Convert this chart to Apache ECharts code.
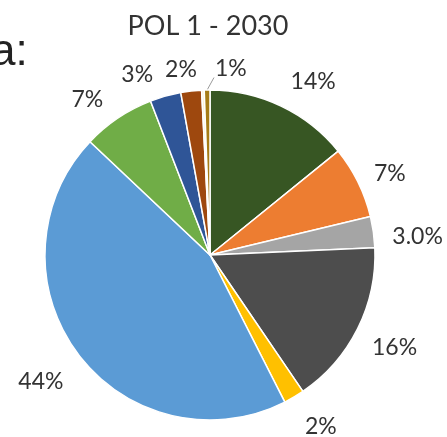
<!DOCTYPE html>
<html>
<head>
<meta charset="utf-8">
<script src="https://cdn.jsdelivr.net/npm/echarts@6/dist/echarts.min.js"></script>
<style>
  html, body { margin: 0; padding: 0; background: #fff; }
  #chart { width: 447px; height: 437px; }
</style>
</head>
<body>
<div id="chart"></div>
<script>
// Share of each category in 2030 (percent), clockwise from 12 o'clock
const categories = ['A', 'B', 'C', 'D', 'E', 'F', 'G', 'H', 'I', 'J', 'K'];
const shares = [14, 7, 3.0, 16, 2, 44, 7, 3, 2, 0.25, 0.55];
// decimals shown in each label (null = no label)
const labelDecimals = [0, 0, 1, 0, 0, 0, 0, 0, 0, null, 0];
const sliceColors = ['#375623', '#ED7D31', '#A5A5A5', '#4D4D4D', '#FFC000', '#5B9BD5',
                     '#70AD47', '#2F5597', '#9E480E', '#FFF2CC', '#A67C16'];
const titleText = 'POL 1 - 2030';

// pie geometry
const CX = 210, CY = 255, R = 165;
const LABEL_GAP = 15;        // space between the rim and the nearest edge of a label
const LABEL_FONT = 23;
const LEADER_INDEX = 10;     // slice whose label sits on a leader line
const LEADER_ANGLE = 6.5;    // degrees from 12 o'clock for that label
// fine shifts (px) of individual labels away from the default spot
const labelShift = [[17, 7], [1, 7], [3, 10], [1, 1], [10, 1], [-5, 4],
                    [-12, 9], [-20, 8], [-7, 7], [0, 0], [-1, 6]];

const total = shares.reduce((a, b) => a + b, 0);
const midAngles = [];
let acc = 0;
shares.forEach(v => { midAngles.push((acc + v / 2) / total * 2 * Math.PI); acc += v; });

const chart = echarts.init(document.getElementById('chart'));

const data = categories.map((name, i) => {
  const item = { name: name, value: shares[i], itemStyle: { color: sliceColors[i] } };
  if (labelDecimals[i] === null) {
    item.label = { show: false };
    item.labelLine = { show: false };
  } else if (i === LEADER_INDEX) {
    item.labelLine = { show: true, lineStyle: { color: '#9a9a9a', width: 1 } };
  }
  return item;
});

// place each label just outside the rim, along its slice's middle direction
function placeLabel(params) {
  const i = params.dataIndex;
  const w = params.labelRect.width;
  const h = LABEL_FONT;
  const a = i === LEADER_INDEX ? LEADER_ANGLE * Math.PI / 180 : midAngles[i];
  const dx = Math.sin(a), dy = -Math.cos(a);
  const ext = Math.abs(dx) * w / 2 + Math.abs(dy) * h / 2;
  const d = R + LABEL_GAP + ext;
  const x = CX + dx * d + labelShift[i][0];
  const y = CY + dy * d + labelShift[i][1];
  const out = { x: x, y: y, align: 'center', verticalAlign: 'middle' };
  if (i === LEADER_INDEX) {
    const m = midAngles[i];
    const sx = CX + Math.sin(m) * R, sy = CY - Math.cos(m) * R;
    const ex = x - w / 2 - 1, ey = y + h / 2 - 3;
    out.labelLinePoints = [[sx, sy], [ex, ey], [ex, ey]];
  }
  return out;
}

chart.setOption({
  animation: false,
  title: {
    text: titleText,
    left: 203,
    top: 8,
    textAlign: 'center',
    textStyle: { fontFamily: 'Lato', fontSize: 27, fontWeight: 'normal', color: '#333' }
  },
  graphic: [{
    type: 'text',
    left: -9,
    top: 31,
    style: { text: 'a:', font: '44px "Liberation Sans"', fill: '#222' }
  }],
  series: [{
    type: 'pie',
    center: [CX, CY],
    radius: R,
    startAngle: 90,
    clockwise: true,
    avoidLabelOverlap: false,
    itemStyle: { borderColor: '#fff', borderWidth: 1.5 },
    label: {
      show: true,
      position: 'outside',
      fontFamily: 'Lato',
      fontSize: LABEL_FONT,
      color: '#333',
      formatter: (p) => {
        const d = labelDecimals[p.dataIndex];
        return (d === 0 ? Math.round(p.value) : p.value.toFixed(d)) + '%';
      }
    },
    labelLine: { show: false },
    labelLayout: placeLabel,
    data: data
  }]
});
</script>
</body>
</html>
